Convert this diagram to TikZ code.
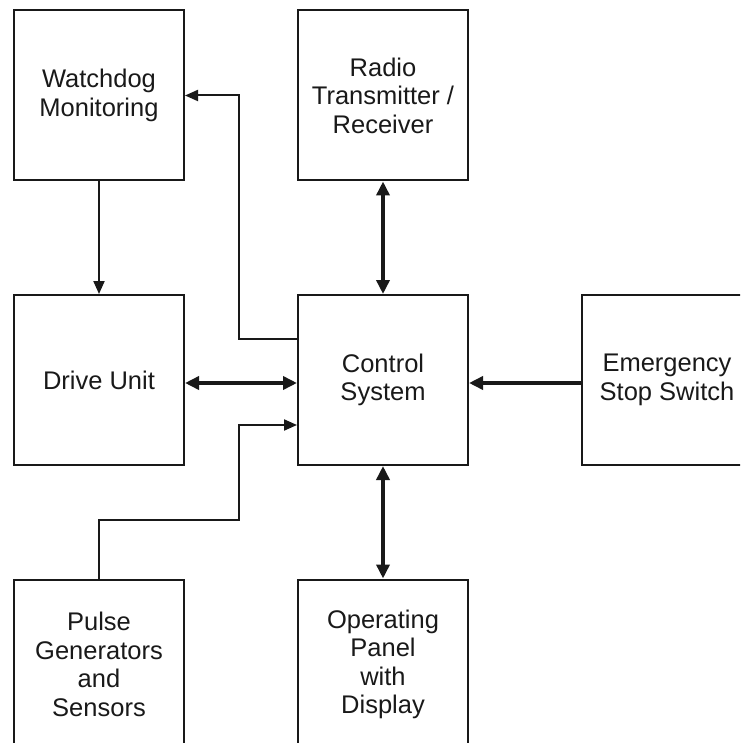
\documentclass[tikz,border=0pt]{standalone}
\usepackage{fontspec}
\setmainfont{Liberation Sans}
\usetikzlibrary{arrows.meta}
\begin{document}
\begin{tikzpicture}[x=1pt,y=-1pt,
  blk/.style={draw=black!90, line width=2pt, minimum width=170pt, minimum height=170pt,
    inner sep=0pt, align=center, font=\fontsize{25.5}{28.5}\selectfont, text=black!90},
  thinarr/.style={draw=black!90, line width=2pt, -{Triangle[length=13pt,width=11pt]}},
  thickarr/.style={draw=black!90, line width=3.6pt, -{Triangle[length=14pt,width=13pt]}},
  thickboth/.style={draw=black!90, line width=3.6pt, {Triangle[length=14pt,width=13pt]}-{Triangle[length=14pt,width=13pt]}}]
\useasboundingbox (0,0) rectangle (740,743);
\clip (0,0) rectangle (740,743);
\node[blk] (watchdog) at (99,95.5) {Watchdog\\Monitoring};
\node[blk] (radio) at (383,95.5) {Radio\\Transmitter /\\Receiver};
\node[blk] (drive) at (99,380) {Drive Unit};
\node[blk] (control) at (383,380) {Control\\System};
\node[blk] (emergency) at (667,380) {Emergency\\Stop Switch};
\node[blk] (pulse) at (99,664.5) {Pulse\\Generators\\and\\Sensors};
\node[blk] (operating) at (383,664.5) {Operating\\Panel\\with\\Display};
% Watchdog -> Drive
\draw[thinarr] (watchdog.south) -- (drive.north);
% Control -> Watchdog
\coordinate (c1) at (239,339);
\coordinate (c2) at (239,95.5);
\draw[thinarr] (control.west |- c1) -- (c1) -- (c2) -- (watchdog.east);
% Pulse -> Control
\coordinate (p1) at (99,520);
\coordinate (p2) at (239,520);
\coordinate (p3) at (239,425);
\draw[thinarr] (pulse.north) -- (p1) -- (p2) -- (p3) -- (control.west |- p3);
% Drive <-> Control
\coordinate (m) at (0,383);
\draw[thickboth] (drive.east |- m) -- (control.west |- m);
% Emergency -> Control
\draw[thickarr] (emergency.west |- m) -- (control.east |- m);
% Radio <-> Control
\draw[thickboth] (radio.south) -- (control.north);
% Control <-> Operating
\draw[thickboth] (control.south) -- (operating.north);
\end{tikzpicture}
\end{document}
